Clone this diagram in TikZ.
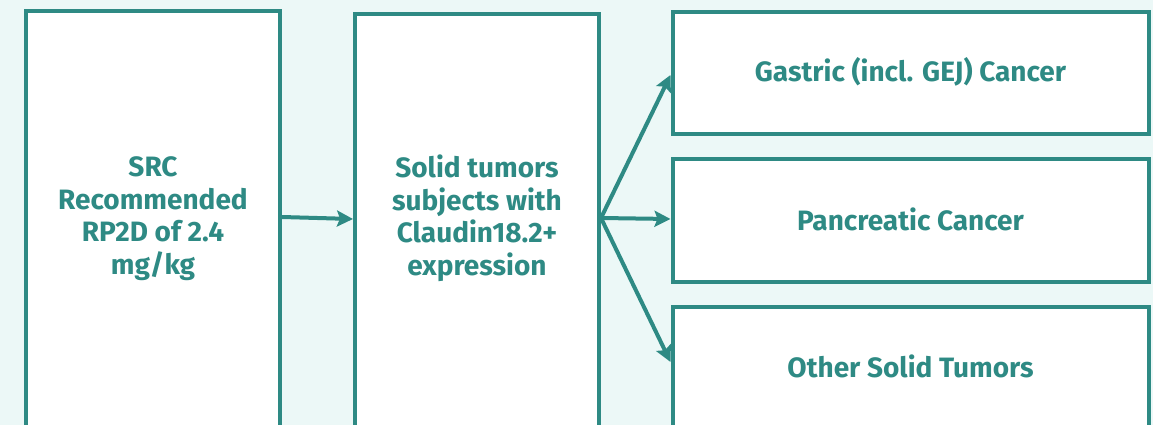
\documentclass[tikz,border=0pt]{standalone}
\usepackage{fontspec}
\setmainfont{Fira Sans}[BoldFont={Fira Sans Bold}]
\usetikzlibrary{arrows.meta}
\definecolor{teal1}{HTML}{2E8A84}
\definecolor{bg}{HTML}{ECF8F7}
\begin{document}
\begin{tikzpicture}[x=1pt,y=-1pt,
  box/.style={draw=teal1, line width=4pt, fill=white, inner sep=0pt},
  lbl/.style={text=teal1, align=center, font=\fontsize{28}{32.5}\selectfont\bfseries, inner sep=0pt},
  arr/.style={draw=teal1, line width=4pt, -{Stealth[length=16pt,width=16pt,inset=3pt]}}]
\useasboundingbox (0,0) rectangle (1153,425);
\clip (0,0) rectangle (1153,425);
\fill[bg] (0,0) rectangle (1153,425);
\node[box, anchor=north, minimum width=254pt, minimum height=460pt] (s) at (153,9) {};
\node[box, anchor=north, minimum width=244pt, minimum height=460pt] (t) at (477,12) {};
\node[box, minimum width=476pt, minimum height=122.5pt] (a) at (910.5,73) {};
\node[box, minimum width=476pt, minimum height=122.5pt] (b) at (910.5,220.5) {};
\node[box, minimum width=476pt, minimum height=122.5pt] (c) at (910.5,368) {};
\node[lbl] (st) at (153,218.5) {SRC\\Recommended\\RP2D of 2.4\\mg/kg};
\node[lbl] (tt) at (477,218.5) {Solid tumors\\subjects with\\Claudin18.2+\\expression};
\node[lbl] (at) at (910.5,72) {Gastric (incl. GEJ) Cancer};
\node[lbl] (bt) at (910.5,219) {Pancreatic Cancer};
\node[lbl] (ct) at (910.5,366) {Other Solid Tumors};
\coordinate (sout) at (s.east |- 0,217);
\coordinate (tin) at (t.west |- 0,219);
\coordinate (tout) at (t.east |- 0,218);
\coordinate (ain) at (a.west |- 0,75);
\coordinate (bin) at (b.west |- 0,219);
\coordinate (cin) at (c.west |- 0,362);
\draw[arr] (sout) -- (tin);
\draw[arr] (tout) -- (ain);
\draw[arr] (tout) -- (bin);
\draw[arr] (tout) -- (cin);
\end{tikzpicture}
\end{document}
